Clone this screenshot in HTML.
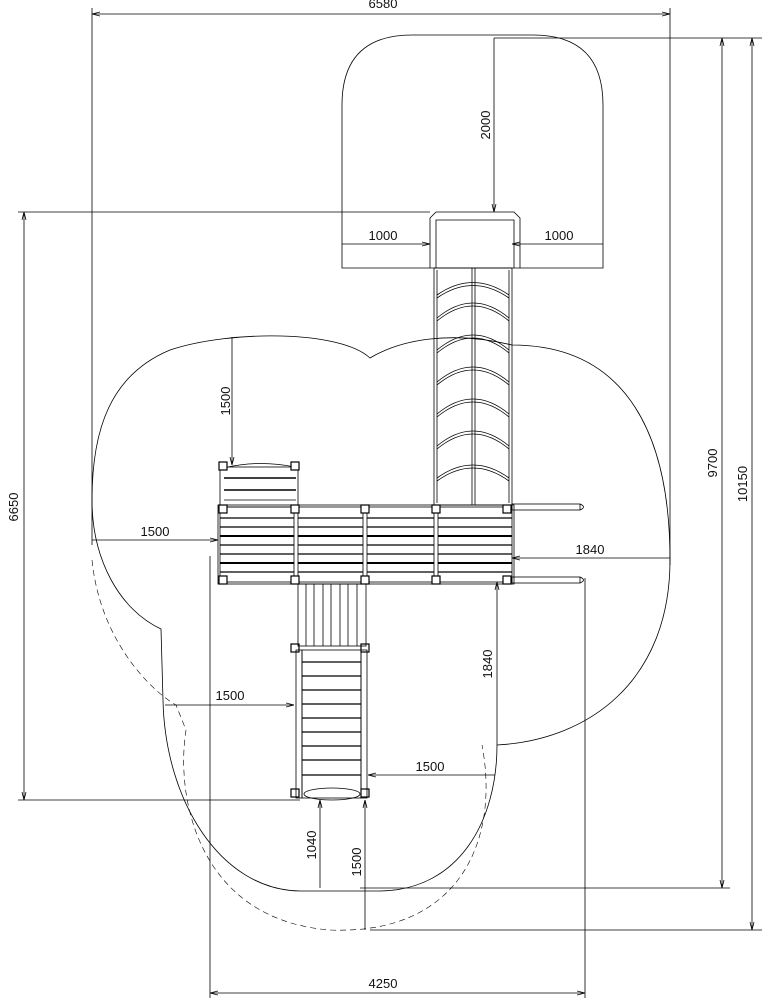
<!DOCTYPE html>
<html><head><meta charset="utf-8"><style>
html,body{margin:0;padding:0;background:#fff}
svg{display:block}
text{font-family:"Liberation Sans",sans-serif;font-size:13px;fill:#111}
</style></head><body>
<svg width="777" height="1000" viewBox="0 0 777 1000" xmlns="http://www.w3.org/2000/svg">
<defs>
<marker id="a" markerWidth="8" markerHeight="6" refX="8" refY="3" orient="auto-start-reverse" markerUnits="userSpaceOnUse"><path d="M0,1 L8,3 L0,5" fill="none" stroke="#000" stroke-width="0.8"/></marker>
</defs>
<g fill="none" stroke="#000" stroke-width="0.8">
<line x1="92" y1="8" x2="92" y2="545"/>
<line x1="670" y1="8" x2="670" y2="565"/>
<line x1="494" y1="38" x2="762" y2="38"/>
<line x1="360" y1="888" x2="730" y2="888"/>
<line x1="370" y1="930" x2="762" y2="930"/>
<line x1="18" y1="212" x2="430" y2="212"/>
<line x1="18" y1="800" x2="300" y2="800"/>
<line x1="210" y1="556" x2="210" y2="998"/>
<line x1="585" y1="578" x2="585" y2="998"/>
<line x1="92" y1="14" x2="670" y2="14" marker-start="url(#a)" marker-end="url(#a)"/>
<line x1="722" y1="38" x2="722" y2="888" marker-start="url(#a)" marker-end="url(#a)"/>
<line x1="752" y1="38" x2="752" y2="930" marker-start="url(#a)" marker-end="url(#a)"/>
<line x1="24" y1="212" x2="24" y2="800" marker-start="url(#a)" marker-end="url(#a)"/>
<line x1="210" y1="993" x2="585" y2="993" marker-start="url(#a)" marker-end="url(#a)"/>
<line x1="494" y1="38" x2="494" y2="212" marker-end="url(#a)"/>
<line x1="342" y1="244" x2="430" y2="244" marker-end="url(#a)"/>
<line x1="603" y1="244" x2="512" y2="244" marker-end="url(#a)"/>
<line x1="232" y1="337" x2="232" y2="465" marker-end="url(#a)"/>
<line x1="92" y1="540" x2="218" y2="540" marker-end="url(#a)"/>
<line x1="670" y1="558" x2="512" y2="558" marker-end="url(#a)"/>
<line x1="497" y1="745" x2="497" y2="582" marker-end="url(#a)"/>
<line x1="165" y1="705" x2="294" y2="705" marker-end="url(#a)"/>
<line x1="495" y1="775" x2="368" y2="775" marker-end="url(#a)"/>
<line x1="320" y1="888" x2="320" y2="800" marker-end="url(#a)"/>
<line x1="365" y1="930" x2="365" y2="800" marker-end="url(#a)"/>
<path d="M342,268 V105 Q342,35 412,35 H533 Q603,35 603,105 V268 Z"/>
<path d="M370,358 C340,330 230,330 170,350 C110,375 92,430 92,500 C92,560 120,610 161,629 L163,700 C165,800 220,890 300,891 L380,891 C460,890 497,820 497,745 C590,740 670,680 670,560 C670,440 630,345 512,345 C450,330 400,340 370,358 Z"/>
<path d="M92,560 C100,640 150,690 176,705 L186,730 C175,800 200,920 330,930 C460,935 500,840 482,745" stroke-dasharray="6,4" stroke-width="0.6"/>
<path d="M430,268 V218 L436,212 H514 L520,218 V268"/>
<path d="M436,268 V220 H514 V268"/>
<rect x="434" y="268" width="78" height="237"/>
<line x1="472" y1="268" x2="472" y2="505"/><line x1="475" y1="268" x2="475" y2="505"/>
<line x1="437" y1="270" x2="437" y2="503"/><line x1="509" y1="270" x2="509" y2="503"/>
<g stroke-width="0.8">
<path d="M437,295 Q473,270 509,295"/><path d="M437,298 Q473,273 509,298"/>
<path d="M437,318 Q473,288 509,318"/><path d="M437,321 Q473,291 509,321"/>
<path d="M437,350 Q473,320 509,350"/><path d="M437,353 Q473,323 509,353"/>
<path d="M437,382 Q473,352 509,382"/><path d="M437,385 Q473,355 509,385"/>
<path d="M437,414 Q473,384 509,414"/><path d="M437,417 Q473,387 509,417"/>
<path d="M437,446 Q473,416 509,446"/><path d="M437,449 Q473,419 509,449"/>
<path d="M437,478 Q473,452 509,478"/><path d="M437,481 Q473,455 509,481"/>
</g>
<rect x="220" y="467" width="78" height="40"/>
<path d="M228,467 Q260,460 295,467"/>
<line x1="224" y1="478" x2="296" y2="478" stroke-width="1.5"/><line x1="224" y1="490" x2="296" y2="490" stroke-width="1.5"/><line x1="224" y1="500" x2="296" y2="500"/>
<rect x="220" y="507" width="292" height="75"/>
<rect x="218" y="505" width="296" height="79"/>
<g stroke-width="1.2">
<line x1="220" y1="518" x2="512" y2="518"/><line x1="220" y1="527" x2="512" y2="527"/><line x1="220" y1="536" x2="512" y2="536" stroke-width="2"/><line x1="220" y1="545" x2="512" y2="545"/><line x1="220" y1="554" x2="512" y2="554"/><line x1="220" y1="563" x2="512" y2="563" stroke-width="2"/><line x1="220" y1="572" x2="512" y2="572"/>
</g>
<rect x="294" y="507" width="4" height="75" fill="#fff"/><rect x="363" y="507" width="4" height="75" fill="#fff"/><rect x="434" y="507" width="4" height="75" fill="#fff"/>
<g fill="#fff" stroke-width="1.2">
<rect x="219" y="462" width="8" height="8"/><rect x="291" y="462" width="8" height="8"/>
<rect x="219" y="505" width="8" height="8"/><rect x="291" y="505" width="8" height="8"/><rect x="361" y="505" width="8" height="8"/><rect x="432" y="505" width="8" height="8"/><rect x="503" y="505" width="8" height="8"/>
<rect x="219" y="576" width="8" height="8"/><rect x="291" y="576" width="8" height="8"/><rect x="361" y="576" width="8" height="8"/><rect x="432" y="576" width="8" height="8"/><rect x="503" y="576" width="8" height="8"/>
<rect x="291" y="644" width="8" height="8"/><rect x="361" y="644" width="8" height="8"/>
<rect x="291" y="789" width="8" height="8"/><rect x="361" y="789" width="8" height="8"/>
</g>
<rect x="512" y="504" width="68" height="6"/><path d="M580,504 Q587,507 580,510"/>
<rect x="512" y="577" width="68" height="6"/><path d="M580,577 Q587,580 580,583"/>
<rect x="298" y="584" width="68" height="62"/>
<line x1="306" y1="584" x2="306" y2="646"/><line x1="314" y1="584" x2="314" y2="646"/><line x1="323" y1="584" x2="323" y2="646"/><line x1="331" y1="584" x2="331" y2="646"/><line x1="340" y1="584" x2="340" y2="646"/><line x1="348" y1="584" x2="348" y2="646"/><line x1="357" y1="584" x2="357" y2="646"/>
<rect x="296" y="650" width="6" height="148"/><rect x="361" y="650" width="6" height="148"/>
<rect x="302" y="650" width="59" height="148"/>
<g stroke-width="1.2"><line x1="302" y1="662" x2="361" y2="662"/><line x1="302" y1="676" x2="361" y2="676"/><line x1="302" y1="690" x2="361" y2="690"/><line x1="302" y1="704" x2="361" y2="704"/><line x1="302" y1="718" x2="361" y2="718"/><line x1="302" y1="732" x2="361" y2="732"/><line x1="302" y1="746" x2="361" y2="746"/><line x1="302" y1="760" x2="361" y2="760"/><line x1="302" y1="775" x2="361" y2="775"/></g>
<ellipse cx="332" cy="794" rx="28" ry="6"/>
</g>
<text x="383" y="8" text-anchor="middle">6580</text>
<text x="383" y="988" text-anchor="middle">4250</text>
<text x="383" y="240" text-anchor="middle">1000</text>
<text x="559" y="240" text-anchor="middle">1000</text>
<text x="155" y="536" text-anchor="middle">1500</text>
<text x="590" y="554" text-anchor="middle">1840</text>
<text x="230" y="700" text-anchor="middle">1500</text>
<text x="430" y="771" text-anchor="middle">1500</text>
<text transform="translate(490,125) rotate(-90)" text-anchor="middle">2000</text>
<text transform="translate(230,401) rotate(-90)" text-anchor="middle">1500</text>
<text transform="translate(492,664) rotate(-90)" text-anchor="middle">1840</text>
<text transform="translate(316,845) rotate(-90)" text-anchor="middle">1040</text>
<text transform="translate(361,862) rotate(-90)" text-anchor="middle">1500</text>
<text transform="translate(18,507) rotate(-90)" text-anchor="middle">6650</text>
<text transform="translate(717,463) rotate(-90)" text-anchor="middle">9700</text>
<text transform="translate(747,484) rotate(-90)" text-anchor="middle">10150</text>
</svg>
</body></html>
